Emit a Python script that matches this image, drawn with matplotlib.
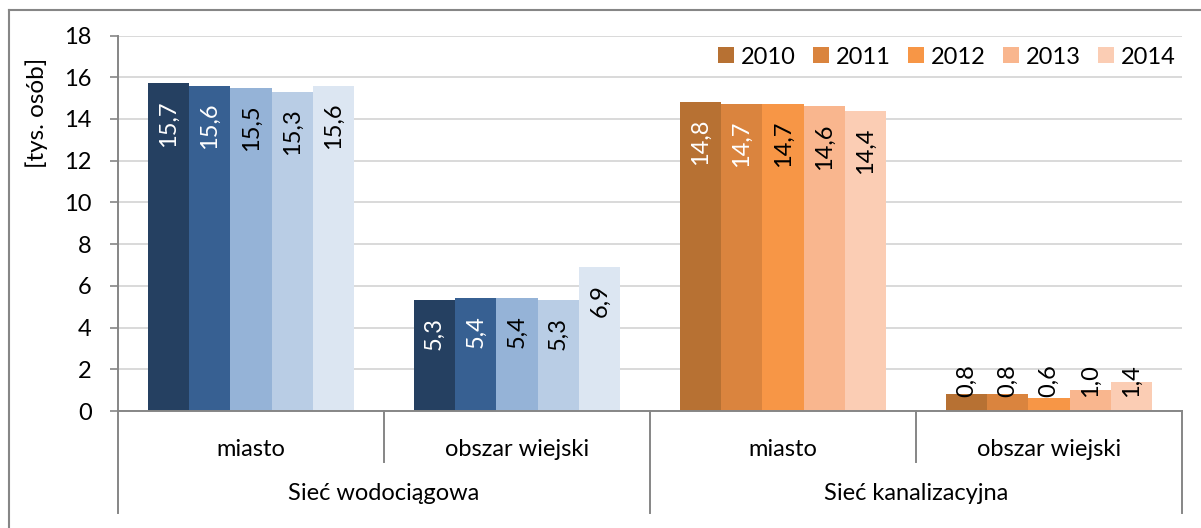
import matplotlib
matplotlib.use("Agg")
import matplotlib.pyplot as plt
from matplotlib.lines import Line2D
from matplotlib.transforms import blended_transform_factory
import numpy as np

plt.rcParams['font.family'] = ['Lato', 'DejaVu Sans']

years = ['2010', '2011', '2012', '2013', '2014']
subcats = ['miasto', 'obszar wiejski', 'miasto', 'obszar wiejski']
maincats = ['Sieć wodociągowa', 'Sieć kanalizacyjna']
values = {
    '2010': [15.7, 5.3, 14.8, 0.8],
    '2011': [15.6, 5.4, 14.7, 0.8],
    '2012': [15.5, 5.4, 14.7, 0.6],
    '2013': [15.3, 5.3, 14.6, 1.0],
    '2014': [15.6, 6.9, 14.4, 1.4],
}
blue = ['#254061', '#376092', '#95B3D7', '#B9CDE5', '#DCE6F2']
orange = ['#B77133', '#DA843E', '#F79646', '#F9B68E', '#FBCDB4']
label_colors = ['white', 'white', 'black', 'black', 'black']
ylabel = '[tys. osób]'
yticks = [0, 2, 4, 6, 8, 10, 12, 14, 16, 18]

W, H = 1201, 528
fig = plt.figure(figsize=(W / 100, H / 100), dpi=100)
ax_l, ax_r, ax_t, ax_b = 118, 1182, 35.5, 411
ax = fig.add_axes([ax_l / W, (H - ax_b) / H, (ax_r - ax_l) / W, (ax_b - ax_t) / H])
ax_h = ax_b - ax_t

FS = 17
axis_col = '#868686'
grid_col = '#D9D9D9'

x = np.arange(len(subcats))
bw = 0.1556
for i, yr in enumerate(years):
    vals = values[yr]
    cols = [blue[i], blue[i], orange[i], orange[i]]
    pos = x + (i - 2) * bw
    ax.bar(pos, vals, width=bw, color=cols, linewidth=0, zorder=3)
    for p, v in zip(pos, vals):
        txt = f'{v:.1f}'.replace('.', ',')
        if v >= 2:
            ax.annotate(txt, (p, v), xytext=(0, -12), textcoords='offset points',
                        rotation=90, ha='center', va='top', fontsize=FS,
                        color=label_colors[i], zorder=4)
        else:
            ax.annotate(txt, (p, 0), xytext=(0, 10), textcoords='offset points',
                        rotation=90, ha='center', va='bottom', fontsize=FS,
                        color='black', zorder=4)

ax.set_xlim(-0.5, len(subcats) - 0.5)
ax.set_ylim(0, 18)
ax.set_yticks(yticks)
ax.set_yticklabels([str(t) for t in yticks], fontsize=FS)
ax.tick_params(axis='y', length=6, width=1.2, color=axis_col, pad=13)
ax.set_xticks([])
ax.yaxis.grid(True, color=grid_col, linewidth=1.4, zorder=0)
ax.set_axisbelow(True)
for s in ['top', 'right']:
    ax.spines[s].set_visible(False)
for s in ['left', 'bottom']:
    ax.spines[s].set_color(axis_col)
    ax.spines[s].set_linewidth(1.4)
    ax.spines[s].set_zorder(5)

# Category separators and labels
tr = blended_transform_factory(ax.transData, ax.transAxes)
inner = 51 / ax_h
outer = 102 / ax_h
for k in range(len(subcats) + 1):
    xb = k - 0.5
    depth = outer if k % 2 == 0 else inner
    ax.add_line(Line2D([xb, xb], [0, -depth], transform=tr, color=axis_col,
                       linewidth=1.4, clip_on=False))
for k, name in enumerate(subcats):
    ax.text(k, -38 / ax_h, name, transform=tr, ha='center', va='center', fontsize=FS)
for k, name in enumerate(maincats):
    ax.text(2 * k + 0.5, -83 / ax_h, name, transform=tr, ha='center', va='center', fontsize=FS)

fig.text(37 / W, 1 - 113 / H, ylabel, rotation=90, ha='center', va='center', fontsize=FS + 0.5)

handles = [Line2D([], [], linestyle='none', marker='s', markersize=12,
                  markerfacecolor=orange[i], markeredgewidth=0) for i in range(len(years))]
fig.legend(handles, years, loc='center right', bbox_to_anchor=(1176 / W, 1 - 57 / H),
           ncol=5, frameon=False, fontsize=FS, handlelength=0.7, handletextpad=0.3,
           columnspacing=0.7, borderpad=0, borderaxespad=0)

# Outer chart frame (partially visible)
fig.add_artist(Line2D([9 / W, 1], [1 - 10 / H, 1 - 10 / H], transform=fig.transFigure,
                      color=axis_col, linewidth=1.5))
fig.add_artist(Line2D([9 / W, 9 / W], [0, 1 - 10 / H], transform=fig.transFigure,
                      color=axis_col, linewidth=1.5))

fig.savefig('out.png', dpi=100)
